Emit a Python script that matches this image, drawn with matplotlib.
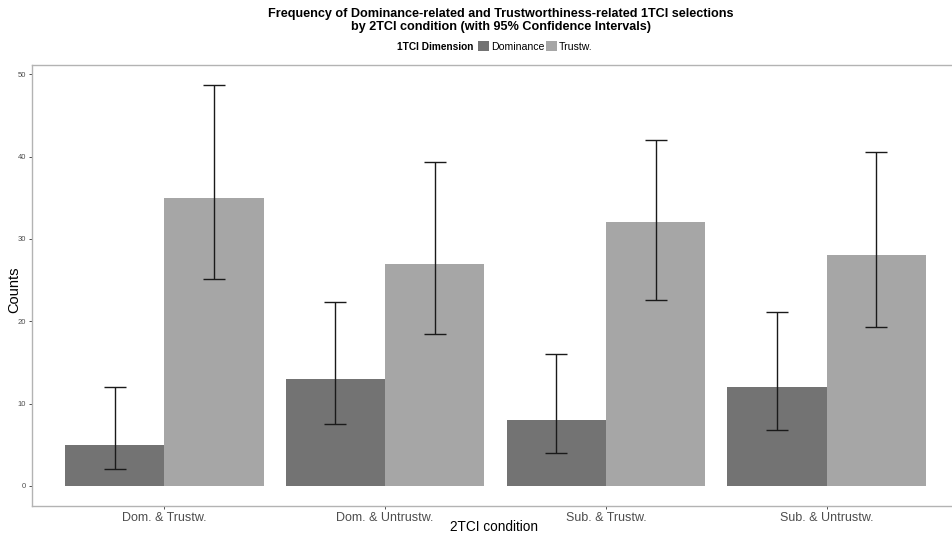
import matplotlib
matplotlib.use("Agg")
import matplotlib.pyplot as plt
from matplotlib.patches import Patch
import numpy as np

plt.rcParams['font.family'] = ['Liberation Sans', 'DejaVu Sans']

categories = ["Dom. & Trustw.", "Dom. & Untrustw.", "Sub. & Trustw.", "Sub. & Untrustw."]
series = ["Dominance", "Trustw."]
dom_counts = [5, 13, 8, 12]
dom_lower = [2.1, 7.5, 4.0, 6.8]
dom_upper = [12.0, 22.4, 16.0, 21.1]
tru_counts = [35, 27, 32, 28]
tru_lower = [25.1, 18.5, 22.6, 19.3]
tru_upper = [48.7, 39.4, 42.0, 40.6]
yticks = [0, 10, 20, 30, 40, 50]

colors = ["#737373", "#A6A6A6"]

fig = plt.figure(figsize=(9.52, 5.37), dpi=100)
ax = fig.add_axes([32/952, 31/537, 927/952, 441/537])

x = np.arange(1, len(categories) + 1)
w = 0.45
vals = [(dom_counts, dom_lower, dom_upper), (tru_counts, tru_lower, tru_upper)]
offsets = [-w/2, w/2]
for (c, lo, up), off, col in zip(vals, offsets, colors):
    c = np.array(c, float); lo = np.array(lo); up = np.array(up)
    ax.bar(x + off, c, width=w, color=col, edgecolor='none', zorder=2)
    ax.errorbar(x + off, c, yerr=[c - lo, up - c], fmt='none', ecolor='#1a1a1a',
                elinewidth=1.0, capsize=7.9, capthick=1.0, zorder=3)

ax.set_xlim(0.4, 4.6)
ax.set_ylim(-2.435, 51.13)
ax.set_xticks(x)
ax.set_xticklabels(categories, fontsize=9.0, color='#4d4d4d')
ax.set_yticks(yticks)
ax.set_yticklabels([str(v) for v in yticks], fontsize=5.5, color='#4d4d4d')
ax.tick_params(axis='both', length=2.5, width=0.6, color='#333333', pad=2)
ax.tick_params(axis='x', pad=1.5)
for s in ax.spines.values():
    s.set_color('#b3b3b3')
    s.set_linewidth(1.0)

ax.set_xlabel("2TCI condition", fontsize=9.8)
ax.xaxis.label.set_va('center')
ax.xaxis.set_label_coords((494 - 32) / 927, (506 - 527) / 441)
ax.set_ylabel("Counts", fontsize=10.5)
ax.yaxis.label.set_va('center')
ax.yaxis.set_label_coords((14 - 32) / 927, (506 - 290) / 441)

fig.text(501/952, 1 - 20.5/537, "Frequency of Dominance-related and Trustworthiness-related 1TCI selections\nby 2TCI condition (with 95% Confidence Intervals)",
         ha='center', va='center', fontsize=9.1, fontweight='bold', linespacing=1.2)

fig.text(435.5/952, 1 - 46.5/537, "1TCI Dimension", ha='center', va='center', fontsize=7.3, fontweight='bold')
handles = [Patch(facecolor=colors[0], edgecolor='none'), Patch(facecolor=colors[1], edgecolor='none')]
fig.legend(handles, series, loc='center left', bbox_to_anchor=(478/952, 1 - 46.5/537), ncol=2,
           frameon=False, fontsize=7.6, handlelength=1.04, handleheight=1.04,
           handletextpad=0.2, columnspacing=0.15, borderpad=0, borderaxespad=0)

fig.savefig("out.png", dpi=100)
